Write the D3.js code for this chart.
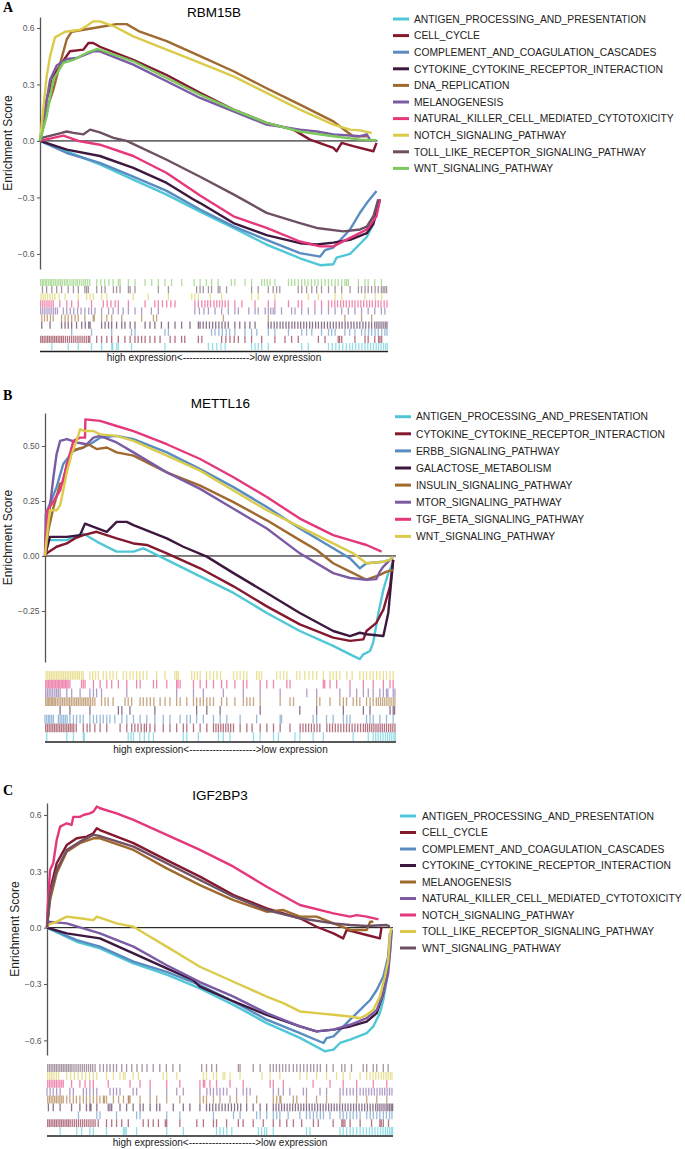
<!DOCTYPE html>
<html>
<head>
<meta charset="utf-8">
<script src="https://cdnjs.cloudflare.com/ajax/libs/d3/7.8.5/d3.min.js"></script>
<style>
  body { margin: 0; padding: 0; background: #fff; }
  svg { display: block; font-family: "Liberation Sans", Arial, sans-serif; }
</style>
</head>
<body>
<svg id="chart" width="685" height="1149"></svg>
<script>
// colours are given in legend order, the same for every panel
var palette = ['#4FC7D7', '#84182F', '#598DC2', '#3E173F', '#A0692D',
               '#7A5BA4', '#E5387A', '#DBCB4B', '#6D5064', '#7BC85C'];

// ---------- panel A : RBM15B ----------
var namesA = ['ANTIGEN_PROCESSING_AND_PRESENTATION', 'CELL_CYCLE',
  'COMPLEMENT_AND_COAGULATION_CASCADES', 'CYTOKINE_CYTOKINE_RECEPTOR_INTERACTION',
  'DNA_REPLICATION', 'MELANOGENESIS', 'NATURAL_KILLER_CELL_MEDIATED_CYTOTOXICITY',
  'NOTCH_SIGNALING_PATHWAY', 'TOLL_LIKE_RECEPTOR_SIGNALING_PATHWAY', 'WNT_SIGNALING_PATHWAY'];
var ticksA = [0.6, 0.3, 0, -0.3, -0.6];
// running enrichment score, [rank %, ES]
var esA = [
  [[0,0],[7.7,-0.055],[17.2,-0.125],[26.8,-0.205],[36.4,-0.285],[46,-0.375],[55.6,-0.462],[65.1,-0.55],[74.7,-0.623],[80.5,-0.66],[84.3,-0.655],[85.2,-0.62],[89.1,-0.6],[93.9,-0.51],[95.8,-0.44],[97.7,-0.31]],
  [[0,0],[1.9,0.22],[3.8,0.34],[5.7,0.4],[8.6,0.476],[12.5,0.485],[13.9,0.52],[15.3,0.52],[17.2,0.5],[26.8,0.43],[36.4,0.35],[46,0.255],[55.6,0.166],[65.1,0.096],[72.8,0.06],[77.6,0.007],[84.3,-0.037],[85.2,-0.055],[86.7,-0.01],[90,-0.028],[95.8,-0.055],[96.7,-0.01]],
  [[0,0],[7.7,-0.064],[17.2,-0.117],[26.8,-0.19],[36.4,-0.265],[46,-0.364],[55.6,-0.454],[65.1,-0.525],[74.7,-0.596],[80.5,-0.614],[81.9,-0.58],[84.3,-0.566],[89.1,-0.47],[92,-0.38],[93.9,-0.33],[96.7,-0.266]],
  [[0,0],[7.7,-0.046],[17.2,-0.08],[26.8,-0.143],[36.4,-0.223],[44,-0.31],[46,-0.33],[55.6,-0.436],[65.1,-0.5],[74.7,-0.543],[79.5,-0.55],[84.3,-0.54],[89.1,-0.525],[93.9,-0.49],[95.8,-0.44],[97.7,-0.31]],
  [[0,0],[1.9,0.166],[3.8,0.27],[5.7,0.405],[7.7,0.54],[9.1,0.58],[12.5,0.59],[17.2,0.605],[22,0.62],[24.9,0.62],[28.7,0.58],[36.4,0.53],[46,0.45],[55.6,0.37],[65.1,0.28],[74.7,0.193],[84.3,0.104],[88.1,0.05],[90,0.025],[93.9,0.025]],
  [[0,0],[2.9,0.325],[4.8,0.4],[7.7,0.435],[10.5,0.44],[15.3,0.476],[17.2,0.476],[26.8,0.405],[36.4,0.317],[46,0.228],[55.6,0.157],[65.1,0.087],[74.7,0.06],[79.5,0.05],[84.3,0.035],[92,0.025],[93.9,0.035],[94.8,0.007]],
  [[0,0],[6.7,0.028],[11.5,-0.002],[17.2,-0.02],[26.8,-0.08],[36.4,-0.17],[46,-0.29],[55.6,-0.4],[65.1,-0.462],[74.7,-0.534],[80.5,-0.56],[84.3,-0.56],[89.1,-0.515],[93.9,-0.47],[96.7,-0.4],[97.7,-0.31]],
  [[0,0],[1.9,0.34],[2.9,0.45],[4.3,0.55],[7.2,0.58],[11.5,0.59],[13.4,0.61],[15.3,0.635],[17.2,0.635],[21.1,0.61],[26.8,0.555],[36.4,0.485],[46,0.414],[55.6,0.343],[65.1,0.255],[74.7,0.166],[84.3,0.087],[89.1,0.06],[92,0.056],[95.3,0.042]],
  [[0,0],[0.5,0.016],[5.7,0.04],[7.7,0.05],[9.6,0.043],[12.5,0.035],[14.4,0.06],[17.2,0.045],[21.1,0.016],[24.9,0],[36.4,-0.1],[46,-0.19],[55.6,-0.284],[65.1,-0.382],[74.7,-0.436],[79.5,-0.462],[87.2,-0.48],[92,-0.47],[93.9,-0.455],[95.8,-0.4],[97.2,-0.31]],
  [[0,0],[1.9,0.13],[3.8,0.326],[6.7,0.414],[9.6,0.43],[13.4,0.467],[16.3,0.488],[17.2,0.485],[26.8,0.423],[36.4,0.334],[46,0.246],[55.6,0.166],[65.1,0.096],[74.7,0.05],[84.3,0.025],[92,0.007],[96.7,0.004]]
];
// gene-set hits along the ranked list, rank %
var rugA = [
  [3.4,8.1,11,14.8,17.7,20.6,20.9,22,22.5,26.3,35.9,48.4,49.6,50.8,52,53.2,60.8,61.8,62.7,63.7,65.6,75.2,77.1,82.9,84,85,86,87,88,89,89.8,90.7,91.6,92.5,93.4,94.2,95,95.8,96.6,97.3,98,98.7,99.3,99.8],
  [0.2,0.7,1.2,1.7,2.2,2.7,3.2,3.7,4.2,4.7,5.2,5.7,6.2,6.7,7.3,7.9,8.5,9.1,9.7,10.3,10.9,11.5,12.1,12.7,13.3,13.9,14.3,16.3,17.7,19.2,20.6,22.5,24.4,25.9,27.3,28.2,29.2,30.2,31.6,33,34.5,37.4,38.8,40.7,41.6,45.5,46.5,52.2,53.4,54.6,55.8,57,58.9,60.8,63.7,67.5,70.4,72.3,74.2,80,81.9,85.7,86.1,86.7,90.5,93.4,94.3,96.2,97.3,97.7,98.2],
  [9.1,14.8,20.6,26.3,27.3,35.9,36.9,49.3,50.3,51.4,52.4,53.5,54.5,56,58.9,60.8,62.3,65.6,67.5,71.4,75.2,76.6,78.1,80.9,82.9,83.8,84.8,87.6,89,90.5,92.4,93.4,94.4,95.3,96.3,97.2,98.2,99.1,99.7],
  [0.5,2.9,6.2,7.2,8.1,9.1,10.5,12,13,14,14.4,17.7,18.7,19.7,20.6,22,23.5,24.4,25.9,27.3,30.2,31.6,33,34.9,36.9,38.8,40.7,43.1,45.5,46,46.9,47.8,48.7,49.6,50.5,51.4,52.3,53.2,54.1,56,57.4,58.9,60.3,61.8,65.6,66.4,67.3,68.1,69,69.8,70.7,71.5,72.4,73.2,74.1,74.9,75.8,76.6,77.5,78.3,79.2,80,80.9,81.7,82.6,83.4,84.3,85.1,86,86.8,87.7,88.5,89.4,90.2,91.1,91.9,92.8,93.6,94.5,95.3,96.2,96.8,97.4,98,98.6,99.2,99.7],
  [0.5,1.3,2.1,3,3.8,6.2,7.2,8.1,9.1,10.1,11,12.9,15.3,15.6,17.7,19.2,20.6,23.5,29.2,32.6,33.5,52.7,65.6,87.6,92.4,95.3],
  [0.2,0.8,1.4,2,2.6,3.2,3.8,4.4,5,6.7,7.7,8.7,9.7,10.8,11.8,12.9,14,14.8,15.8,17.7,19.7,21,22.5,23.9,25.4,27.3,29.2,32,34,44.5,45.8,47.1,48.4,50.3,52.2,54.1,56,57,60,61.8,62.7,64.7,65.6,66.3,67,67.5,69.4,72.3,73.3,75.2,77.1,79,80.9,82.9,84.8,86.7,88.6,90.5,92.4,94.3,96.2,98.1,99.1],
  [0.2,0.8,1.4,2,2.6,3.2,3.8,5.7,7.7,9.1,11,14.8,18.2,19.3,20.4,21.6,22.5,25.4,30.2,33,34,35.2,36.4,37.6,38.8,44.5,45.5,46.5,47.4,48.2,49,50,50.8,51.6,52.4,53.2,54.1,56,58,61.8,65.6,67.5,71.4,74.2,75.2,79,80.9,82.9,83.8,84.7,85.5,86.4,87.2,88,88.9,89.7,90.5,91.4,92.2,93,93.9,94.7,95.5,96.4,97.2,98,98.9,99.7],
  [0.3,0.9,1.5,2.2,2.9,3.6,4.3,5.5,7.2,11,13.4,14.4,15.3,17.7,19.2,26.8,31.1,36.9,43.6,44.5,45.5,48.9,52.2,60.8,62.7,67.5,77.1,80,84.8,86.7,93.4,96.3,98.2],
  [0.7,1.9,3.4,4.8,6.2,8.1,9.6,11,12.9,13.4,13.9,16.3,17.7,18.7,21.1,22,23,25.4,25.9,27.3,34,36.9,45,46,46.9,48.4,49.3,51.2,51.7,53.6,60.8,62.7,65.6,67,68,68.9,74.2,75.2,76.6,78.1,79.5,80.9,82.9,84.8,86.7,89.1,91.5,92.4,93.4,94.3,95.3,96.3,97.2,98.1,98.6,99.1,99.6],
  [0.2,0.7,1.1,1.6,2,2.5,3,3.4,3.9,4.4,4.9,5.4,5.9,6.4,7,7.5,8,8.6,9.2,9.7,10.3,10.8,11.4,12,12.6,13.1,13.7,14.3,16.3,17.5,18.6,19.8,21,22.5,23,25.4,27.3,30.2,32.1,34,35.9,37.8,40.7,44.3,46,47.8,49.3,51.2,55,56,58.9,60.8,63.7,64.5,65.3,66.1,67.5,71.4,72.3,73.2,74.2,75.2,76.1,77,78,79,79.9,80.9,81.9,82.9,83.8,84.8,85.7,86.7,87.6,88.1,88.6,91.5,93.4,94.3,96.2,98.1]
];

// ---------- panel B : METTL16 ----------
var namesB = ['ANTIGEN_PROCESSING_AND_PRESENTATION', 'CYTOKINE_CYTOKINE_RECEPTOR_INTERACTION',
  'ERBB_SIGNALING_PATHWAY', 'GALACTOSE_METABOLISM', 'INSULIN_SIGNALING_PATHWAY',
  'MTOR_SIGNALING_PATHWAY', 'TGF_BETA_SIGNALING_PATHWAY', 'WNT_SIGNALING_PATHWAY'];
var ticksB = [0.5, 0.25, 0, -0.25];
var esB = [
  [[0,0],[0.95,0.072],[6.2,0.072],[8.1,0.087],[10.9,0.102],[15.7,0.057],[20.4,0.02],[25.2,0.02],[28,0.035],[34.7,-0.018],[44.2,-0.093],[53.7,-0.168],[63.2,-0.259],[72.6,-0.341],[82.1,-0.409],[86.9,-0.447],[89.7,-0.469],[90.7,-0.447],[92.6,-0.432],[93.5,-0.394],[95,-0.259],[96.4,-0.153],[97.8,-0.078],[99.2,-0.026]],
  [[0,0],[0.5,0.012],[3.3,0.042],[6.2,0.057],[8.5,0.08],[10.9,0.095],[14.7,0.11],[20.4,0.08],[25.2,0.057],[29,0.05],[34.7,0.012],[44.2,-0.056],[53.7,-0.138],[63.2,-0.229],[72.6,-0.311],[82.1,-0.371],[86.9,-0.386],[90.7,-0.379],[91.6,-0.341],[94.4,-0.304],[96.4,-0.244],[98.3,-0.138],[99.2,-0.018]],
  [[0,0],[0.2,0.19],[3.3,0.313],[5.2,0.418],[8.1,0.478],[10.9,0.493],[12.8,0.508],[15.7,0.538],[20.4,0.546],[25.2,0.531],[34.7,0.471],[44.2,0.395],[53.7,0.313],[63.2,0.223],[72.6,0.125],[82.1,0.035],[86.9,-0.011],[89.7,-0.056],[91.6,-0.033],[96.4,-0.026],[98.3,-0.018],[99.2,-0.011]],
  [[0,0],[1.4,0.087],[6.2,0.087],[10,0.095],[11.4,0.147],[13.8,0.132],[17.6,0.11],[20.4,0.155],[23.3,0.155],[25.2,0.14],[34.7,0.08],[39.4,0.042],[46.1,-0.003],[53.7,-0.078],[63.2,-0.168],[72.6,-0.259],[82.1,-0.341],[86.9,-0.364],[89.7,-0.349],[91.6,-0.356],[96.4,-0.364],[97.8,-0.259],[99.2,-0.018]],
  [[0,0],[0.95,0.117],[2.4,0.22],[4.3,0.328],[5.2,0.335],[6.2,0.418],[7.6,0.471],[9,0.486],[10.9,0.493],[12.3,0.508],[14.7,0.486],[17.6,0.493],[20.4,0.471],[25.2,0.456],[34.7,0.38],[44.2,0.32],[53.7,0.245],[63.2,0.162],[72.6,0.072],[77.4,0.027],[82.1,-0.033],[86.9,-0.071],[91.6,-0.108],[95.4,-0.086],[97.3,-0.071],[99.2,-0.063]],
  [[0,0],[0.5,0.147],[1.4,0.223],[2.4,0.358],[3.3,0.463],[4.3,0.523],[6.2,0.531],[9,0.516],[11.9,0.508],[13.8,0.538],[15.7,0.546],[20.4,0.516],[25.2,0.471],[34.7,0.38],[44.2,0.305],[53.7,0.215],[63.2,0.125],[72.6,0.012],[82.1,-0.078],[86.9,-0.1],[91.6,-0.108],[94.4,-0.105],[95.4,-0.071],[96.4,-0.048],[98.3,-0.018],[99.2,-0.003]],
  [[0,0],[0.5,0.2],[4.3,0.298],[6.2,0.411],[8.1,0.523],[10,0.538],[11.4,0.538],[11.5,0.621],[15.7,0.614],[20.4,0.591],[25.2,0.568],[34.7,0.508],[44.2,0.441],[53.7,0.358],[63.2,0.268],[72.6,0.17],[82.1,0.095],[86.9,0.072],[91.6,0.05],[95.9,0.02]],
  [[0,0],[0.95,0.15],[1.4,0.208],[3.3,0.208],[4.3,0.23],[5.2,0.298],[6.2,0.38],[7.6,0.463],[9,0.523],[10,0.576],[11.4,0.568],[13.8,0.568],[15.7,0.553],[20.4,0.546],[25.2,0.523],[34.7,0.456],[44.2,0.388],[53.7,0.298],[63.2,0.208],[72.6,0.132],[82.1,0.057],[87.8,0.012],[91.6,-0.033],[96.4,-0.026],[98.3,-0.018],[99.2,-0.003]]
];
var rugB = [
  [0.5,6.2,8.1,10.9,11.2,23.7,24.5,25.2,27,28.3,29.6,30.9,39.4,40.4,43.7,49.4,50.8,52.7,59.4,61.3,65.1,66.5,71.2,72.6,76.4,79.3,87.8,92.1,93.5,94.2,94.9,95.6,96.3,97,97.6,98.2,98.8,99.4,99.8],
  [0.2,0.7,1.2,1.7,2.2,2.7,3.2,3.7,4.2,4.7,5.2,5.7,6.2,6.7,7.2,7.7,8.2,8.9,10.9,12,12.8,14.2,15.7,17.6,21.4,23.3,24.7,25.6,26.5,27.4,28.3,28.9,29.9,31.3,33.7,35.6,37.5,39.4,40.4,42.3,44.2,46.1,48,48.7,49.4,50.1,50.8,51.5,52.2,52.9,53.7,55.6,57.5,59,61.3,63.2,65.1,67,69.8,72.7,73.5,74.3,75.1,75.9,76.7,77.5,78.3,80.3,81.1,81.9,82.7,83.5,84.3,85.1,85.9,86.7,87.5,88.3,89.1,89.9,90.7,91.3,91.9,92.5,93.1,93.7,94.3,94.9,95.5,96.1,96.7,97.3,97.9,98.5,99.1,99.7],
  [0,0.5,1,1.4,1.9,2.4,3.8,4.3,4.8,5.3,5.8,6.3,7.1,8.1,9,10,10.9,12.8,13.8,14.7,15.7,16.6,17.6,18.5,19.9,21.9,23.3,25.2,27.1,29,31.3,33.7,35.6,38.5,40.4,41.4,43.2,45.1,48,49.9,51.8,55.6,60.3,67,67.4,76.4,77.4,80.2,82.1,85,86,86.9,91.6,92.6,93.5,95.4,97.3,99.2],
  [4.3,7.1,12.8,20.9,21.9,24.2,31.3,43.2,46.1,49.9,61.3,72.6,77.4,85,90.7,92.6,98.3,99.2,99.6],
  [0.2,0.6,1,1.4,1.8,2.2,2.6,3,3.5,4,4.5,5,5.5,6,6.5,7,7.5,8,8.5,9,9.5,10,10.5,11,11.5,12,12.5,13,13.6,14.2,16.1,17.1,18,19.4,22.8,23.7,24.7,27.1,28,29,30,31,32.8,34.2,35.6,37.5,38.5,40.4,42.3,43.2,44.2,45.1,46.1,47,48,50.3,51.8,54.1,56.5,57.5,58.4,59.4,61.3,67,69.8,70.8,77.4,78.3,81.2,84,85,85.9,87.8,88.8,89.7,91.6,92.6,93.5,94.4,95,95.6,96.2,96.8,97.4,98,98.6,99.2,99.7],
  [0.2,0.7,1.2,1.7,2.2,2.8,3.3,3.8,4.3,6.2,7.6,10,12.8,13.8,14.7,16.1,23.3,37.5,42.3,45.1,50.8,56.5,61.3,67,74.6,77.4,84,86.9,88.8,90.7,92.1,93.5,95.4,96.4,97.3,97.7,99.2,99.7],
  [0.2,0.6,1,1.4,1.8,2.2,2.6,3,3.4,3.8,4.2,4.6,5,5.4,5.8,6.2,6.6,7.1,10.4,10.9,11.4,13.8,15.7,17.6,19,20.9,23.3,26.1,27.1,30.9,31.8,34.7,37.5,37.9,38.5,42.3,44.2,46,48,50.3,51.8,54.1,56.5,57.5,61.3,63.2,65.1,68.9,69.8,79.3,79.7,81.2,83.1,86.9,90.7,93.5,96.4,98.3,99.2],
  [0.3,0.8,1.3,1.8,2.3,2.8,3.3,3.8,4.3,4.8,5.3,5.8,6.3,6.8,7.3,7.8,8.3,8.8,9.3,9.8,10.4,10.9,12.8,13.6,14.4,15.2,16.6,17.5,18.5,19.4,20.4,22.3,23.2,24.2,25.1,26.1,27,28,29,31.8,34.2,37,37.5,38,41.8,42.6,43.4,44.2,46,47,48,49,50,53.7,54.7,55.6,56.6,57.5,60.3,61,61.7,66,67,68,68.9,71.7,72.6,74,75.2,76.3,77.4,79.3,81.2,82.1,83,84,86,87.5,89.7,90.7,91.6,92.6,93.5,94.5,95.4,96.4,97.3,98.3,99.2]
];

// ---------- panel C : IGF2BP3 ----------
var namesC = ['ANTIGEN_PROCESSING_AND_PRESENTATION', 'CELL_CYCLE',
  'COMPLEMENT_AND_COAGULATION_CASCADES', 'CYTOKINE_CYTOKINE_RECEPTOR_INTERACTION',
  'MELANOGENESIS', 'NATURAL_KILLER_CELL_MEDIATED_CYTOTOXICITY', 'NOTCH_SIGNALING_PATHWAY',
  'TOLL_LIKE_RECEPTOR_SIGNALING_PATHWAY', 'WNT_SIGNALING_PATHWAY'];
var ticksC = [0.6, 0.3, 0, -0.3, -0.6];
var esC = [
  [[0,0],[8.6,-0.075],[15.3,-0.11],[25,-0.19],[34.6,-0.25],[44.2,-0.323],[53.9,-0.411],[63.5,-0.508],[73.1,-0.587],[80.3,-0.658],[82.8,-0.649],[84.7,-0.614],[87.6,-0.596],[92.4,-0.561],[94.3,-0.526],[96.2,-0.455],[97.2,-0.385],[98.2,-0.279],[99,-0.15],[99.6,-0.02]],
  [[0,0],[0.2,0.04],[0.9,0.2],[2.8,0.343],[5.7,0.44],[8.6,0.476],[11.5,0.485],[13.4,0.503],[14.4,0.53],[15.3,0.52],[25,0.45],[34.6,0.36],[44.2,0.272],[53.9,0.174],[63.5,0.103],[73.1,0.05],[77.9,0.005],[82.8,-0.03],[85.6,-0.057],[86.6,-0.012],[92.4,-0.039],[96.2,-0.057],[96.7,0.005]],
  [[0,0],[8.6,-0.066],[15.3,-0.101],[25,-0.181],[34.6,-0.235],[44.2,-0.305],[53.9,-0.393],[63.5,-0.49],[73.1,-0.561],[79.9,-0.614],[80.8,-0.588],[82.8,-0.579],[87.6,-0.49],[90.5,-0.438],[93.4,-0.385],[95.3,-0.332],[97.2,-0.26],[98.6,-0.155],[99.1,-0.03]],
  [[0,0],[5.7,-0.03],[15.3,-0.057],[25,-0.137],[34.6,-0.217],[42.3,-0.28],[44.2,-0.314],[53.9,-0.393],[63.5,-0.464],[73.1,-0.526],[77.9,-0.552],[82.8,-0.543],[87.6,-0.526],[92.4,-0.5],[95.3,-0.455],[97.2,-0.35],[98.2,-0.244],[99,-0.1],[99.5,-0.01]],
  [[0,0],[0.2,0.04],[0.9,0.147],[2.8,0.29],[5.7,0.405],[9.5,0.45],[13.4,0.476],[15.3,0.476],[25,0.414],[34.6,0.316],[44.2,0.227],[53.9,0.147],[63.5,0.085],[68.3,0.094],[73.1,0.059],[77.9,0.059],[82.8,0.023],[87.6,-0.012],[92.4,-0.012],[93.4,0.032],[94.3,0.032]],
  [[0,0],[0.2,0.032],[5.7,0.023],[10.5,-0.004],[15.3,-0.03],[25,-0.101],[34.6,-0.2],[44.2,-0.29],[53.9,-0.367],[63.5,-0.455],[73.1,-0.526],[77.9,-0.552],[82.8,-0.543],[87.6,-0.517],[92.4,-0.482],[95.3,-0.438],[97.2,-0.35],[98.6,-0.244],[99.3,-0.1],[99.6,-0.01]],
  [[0,0],[0.1,0.076],[0.5,0.2],[0.9,0.307],[1.8,0.343],[2.8,0.467],[3.8,0.538],[5.7,0.556],[7.1,0.547],[7.6,0.59],[9.5,0.59],[10.5,0.6],[12.4,0.609],[13.4,0.618],[14.4,0.645],[15.3,0.636],[20.1,0.609],[25,0.574],[34.6,0.494],[44.2,0.414],[53.9,0.325],[63.5,0.218],[73.1,0.121],[82.8,0.076],[87.6,0.059],[89.5,0.067],[92.4,0.059],[95.8,0.044]],
  [[0,0],[0.1,0.014],[2.8,0.032],[5.7,0.059],[9.5,0.05],[13.4,0.04],[14.4,0.059],[15.3,0.054],[20.1,0.023],[25,0.005],[29.8,-0.048],[34.6,-0.101],[44.2,-0.208],[53.9,-0.288],[63.5,-0.367],[68.3,-0.402],[73.1,-0.446],[77.9,-0.455],[82.8,-0.464],[87.6,-0.473],[90.5,-0.482],[92.4,-0.464],[94.3,-0.438],[96.2,-0.367],[97.7,-0.26],[98.6,-0.173],[99.1,-0.05],[99.5,0]],
  [[0,0],[0.2,0.04],[0.9,0.183],[2.8,0.307],[5.7,0.414],[9.5,0.458],[13.4,0.494],[15.3,0.488],[25,0.432],[34.6,0.343],[44.2,0.254],[53.9,0.165],[63.5,0.094],[73.1,0.05],[82.8,0.023],[87.6,0.014],[92.4,0.009],[98.2,0.014],[99.1,0.005]]
];
var rugC = [
  [3.8,8.6,10,12.4,13.4,17.2,22.1,22.5,22.9,25.9,34.6,39.4,49,50,51,52,53.4,61.1,62,62.9,63.5,65.4,75,76,84.7,85.6,86.6,87.6,88.5,89.5,90.5,91.4,92.3,93.2,94,94.8,95.6,96.4,97.1,97.8,98.4,99,99.5,99.9],
  [0.2,0.7,1.2,1.7,2.2,2.7,3.2,3.7,4.2,4.7,5.2,5.7,6.2,6.7,7.3,7.9,8.5,9.1,9.7,10.3,10.9,11.5,12.1,12.7,13.3,13.9,14.8,17.2,18.7,20.1,21.6,23.5,27.8,29.3,30.7,32.2,34.2,34.6,38.4,43.3,45.2,48.1,49,51.9,55.3,56.7,59.6,62.5,65.4,67.3,69.3,71.2,73.6,77,78.4,82.7,85.2,85.6,86.1,87.6,90.5,93.8,96.2,96.6,97.2,98.7],
  [9.1,14.4,15.3,20.1,25.9,26.9,34.6,38.4,48.1,53.9,55.8,60.6,61.6,63.5,65.4,66.4,67.3,69.7,73.1,75,76,77,78,79,79.9,81.8,84.7,85.6,86.6,87.6,88.5,89.5,90.5,92.4,93.4,94.3,95.3,96.2,97.2,98.1,99,99.7],
  [0.4,1.8,3.8,7.1,9.5,11.4,12.4,12.7,14.4,17.7,18.2,18.7,21.1,23,24.9,26.9,27.8,29.8,31.7,32.6,36.5,39.4,41.3,44.2,46.1,47,47.9,48.8,49.7,50.6,51.5,52.4,53.3,54.2,55.1,56,57.7,59.6,61.6,63.5,65.4,66.2,67,67.8,68.6,69.4,70.2,71,71.8,72.6,73.4,74.2,75,75.8,76.6,77.4,78.2,79,79.8,80.6,81.4,82.2,83,83.8,84.6,85.4,86.2,87,87.8,88.6,89.4,90.2,91,91.8,92.6,93.4,94.2,95,95.6,96.2,96.8,97.4,98,98.5,99,99.5,99.9],
  [0.2,0.7,1.2,1.7,2.2,2.7,3.2,3.7,4.2,4.7,5.7,6.6,7.6,8.5,9.5,10.5,11.4,12.4,13.4,14.4,15.3,16.3,16.6,17.2,19.2,20.7,22.1,23.5,23.7,24,26.9,29.8,31.7,34.6,38.4,44.2,45.2,46.1,48.1,50,52.9,54.8,57.7,60.6,65.4,66.4,67.3,67.6,71.2,72.2,75,77.9,80.8,84.7,89.5,92.4,95.3,98.2],
  [0,0.9,1.8,2.8,3.8,6.6,7.6,10.5,11.4,12.4,13.4,14.4,18.2,19.2,20.1,21.1,24.9,25.9,29.8,34.6,37.5,39.4,44.2,46.2,47.2,48.1,49.1,50,51,52,54.8,56.7,57.7,58.7,65.4,66.9,68.3,70.2,74.1,75,78.9,80.8,84.7,85.6,86.6,87.6,88.5,89.5,90.5,91.4,92.2,93,93.8,94.6,95.4,96.2,96.9,97.6,98.3,99,99.7],
  [0.2,0.7,1.2,1.7,2.2,2.7,3.2,3.7,4.2,4.7,7.1,9.5,11,12.4,13.4,17.7,24,26.9,29.8,34.6,38.4,44.2,45.2,45.6,47.1,49,52.9,56.7,64.5,65.4,68.3,76.9,81.8,85.6,89.5,94.3,98.2],
  [0.2,0.8,1.4,2,2.7,3.4,5.7,6.8,7.9,9,10.1,11.2,12.3,13.4,14.4,17.2,19.2,21.1,22.1,22.6,24.9,26.4,33.6,34.6,37.5,45.2,46.1,48.1,49,50.9,51.4,52.9,55.8,62.1,64.5,67.3,73.1,75.1,77.9,80.8,83.7,85.6,87.6,90.5,92.4,93.4,94.2,95,95.8,96.6,97.3,98,98.6,99.2,99.7],
  [0.2,0.7,1.2,1.7,2.2,2.7,3.2,3.7,4.2,4.7,5.2,5.7,6.2,6.7,7.2,7.8,8.4,9,9.6,10.2,10.8,11.4,12,12.6,13.2,13.9,15.3,16.3,17.3,18.2,19.2,20.1,21.6,23,24.5,26,27.5,28.9,30.7,32.6,34.5,36.4,38.4,44.7,46.1,47.6,49,55.3,55.8,59.6,61.6,64.5,65.4,66.3,67.2,68.1,69,70,71.2,72.2,73.2,74.2,75.2,76.2,77.1,78.1,79,80.8,82.7,85.2,86.1,88,91.4,92.4,94.3,95.3,97.2,98.6]
];

var svg = d3.select('#chart');

var panels = [
  { letter: 'A', letterY: 12, title: 'RBM15B', titleY: 17, names: namesA, es: esA, rug: rugA,
    ticks: ticksA, fmt: '.1f', left: 40, right: 388, top: 17, bottom: 269, yDomain: [-0.68, 0.658],
    zeroEnd: 97, rugTop: 279, rugBottom: 350, baseY: 351.5, xlabY: 361, ylabX: 11.5,
    keyX: 393, textX: 414, legY: 19, legDy: 16.6 },
  { letter: 'B', letterY: 400, title: 'METTL16', titleY: 408, names: namesB, es: esB, rug: rugB,
    ticks: ticksB, fmt: '.2f', left: 45, right: 396, top: 413, bottom: 662, yDomain: [-0.482, 0.65],
    zeroEnd: 100, rugTop: 671, rugBottom: 741, baseY: 742, xlabY: 753, ylabX: 11.5,
    keyX: 395, textX: 416, legY: 416.7, legDy: 17.1 },
  { letter: 'C', letterY: 795, title: 'IGF2BP3', titleY: 800, names: namesC, es: esC, rug: rugC,
    ticks: ticksC, fmt: '.1f', left: 47, right: 393, top: 803, bottom: 1055, yDomain: [-0.678, 0.664],
    zeroEnd: 100, rugTop: 1064, rugBottom: 1135, baseY: 1136, xlabY: 1146, ylabX: 18.5,
    keyX: 400, textX: 422, legY: 816, legDy: 16.5 }
];

function drawPanel(p) {
  var g = svg.append('g');
  var x = d3.scaleLinear().domain([0, 100]).range([p.left, p.right]);
  var y = d3.scaleLinear().domain(p.yDomain).range([p.bottom, p.top]);
  var mid = (p.left + p.right) / 2;

  g.append('text')
    .attr('x', 3).attr('y', p.letterY)
    .text(p.letter)
    .style('font-family', '"Liberation Serif", "Times New Roman", serif')
    .style('font-weight', 'bold')
    .style('font-size', '14px');

  g.append('text')
    .attr('x', mid).attr('y', p.titleY)
    .attr('text-anchor', 'middle')
    .style('font-size', '13.5px')
    .text(p.title);

  // y axis
  var axis = d3.axisLeft(y)
    .tickValues(p.ticks)
    .tickFormat(d3.format(p.fmt))
    .tickSize(3).tickSizeOuter(0).tickPadding(2.5);
  var ag = g.append('g')
    .attr('transform', 'translate(' + p.left + ',0)')
    .call(axis);
  ag.select('.domain').attr('stroke', '#555').attr('stroke-width', 1.3);
  ag.selectAll('.tick line').attr('stroke', '#555');
  ag.selectAll('.tick text')
    .attr('fill', '#555')
    .style('font-size', '8.5px')
    .style('font-family', '"Liberation Sans", Arial, sans-serif');

  g.append('text')
    .attr('transform', 'translate(' + p.ylabX + ',' + ((p.top + p.bottom) / 2) + ') rotate(-90)')
    .attr('text-anchor', 'middle')
    .style('font-size', '12px')
    .attr('fill', '#222')
    .text('Enrichment Score');

  // zero line
  g.append('line')
    .attr('x1', x(0)).attr('x2', x(p.zeroEnd))
    .attr('y1', y(0)).attr('y2', y(0))
    .attr('stroke', '#000').attr('stroke-width', 1);

  // running scores
  var line = d3.line()
    .x(function(d) { return x(d[0]); })
    .y(function(d) { return y(d[1]); });
  g.selectAll('.es').data(p.es).enter().append('path')
    .attr('class', 'es')
    .attr('d', line)
    .attr('fill', 'none')
    .attr('stroke', function(d, i) { return palette[i]; })
    .attr('stroke-width', 2.4)
    .attr('stroke-linejoin', 'round');

  // hit rug, last gene set on top row
  var n = p.names.length;
  var rowH = (p.rugBottom - p.rugTop) / n;
  p.rug.forEach(function(hits, i) {
    var row = n - 1 - i;
    var y0 = p.rugTop + row * rowH;
    g.append('g').selectAll('line').data(hits).enter().append('line')
      .attr('x1', function(d) { return x(d); })
      .attr('x2', function(d) { return x(d); })
      .attr('y1', y0).attr('y2', y0 + rowH)
      .attr('stroke', palette[i])
      .attr('stroke-width', 1.3)
      .attr('stroke-opacity', 0.6);
  });

  g.append('line')
    .attr('x1', x(0)).attr('x2', x(100))
    .attr('y1', p.baseY).attr('y2', p.baseY)
    .attr('stroke', '#222').attr('stroke-width', 1.5);

  g.append('text')
    .attr('x', mid).attr('y', p.xlabY)
    .attr('text-anchor', 'middle')
    .style('font-size', '10px')
    .attr('fill', '#222')
    .text('high expression<-------------------->low expression');

  // legend
  var leg = g.selectAll('.leg').data(p.names).enter().append('g')
    .attr('transform', function(d, i) { return 'translate(0,' + (p.legY + i * p.legDy) + ')'; });
  leg.append('line')
    .attr('x1', p.keyX).attr('x2', p.keyX + 16)
    .attr('stroke', function(d, i) { return palette[i]; })
    .attr('stroke-width', 3);
  leg.append('text')
    .attr('x', p.textX).attr('y', 3.7)
    .style('font-size', '10.3px')
    .attr('fill', '#222')
    .text(function(d) { return d; });
}

panels.forEach(drawPanel);
</script>
</body>
</html>
